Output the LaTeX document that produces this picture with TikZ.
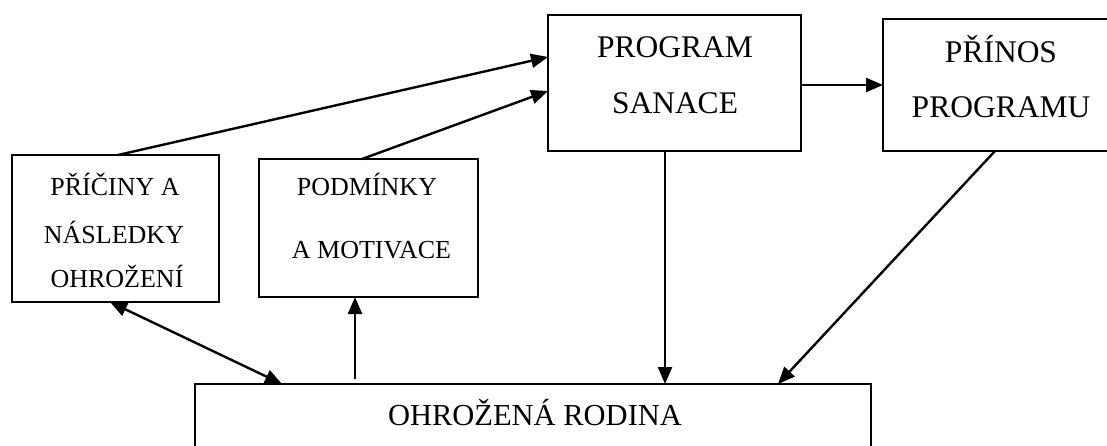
\documentclass[tikz,border=0pt]{standalone}
\usepackage{fontspec}
\setmainfont{Liberation Serif}
\usetikzlibrary{arrows.meta}
\begin{document}
\begin{tikzpicture}[x=1pt,y=-1pt,
  box/.style={draw, line width=1.9pt, inner sep=0pt, outer sep=0pt},
  tipa/.tip={Triangle[length=17pt,width=14pt]},
  arr/.style={line width=2.4pt, -tipa},
  darr/.style={line width=2.4pt, tipa-tipa},
  big/.style={anchor=base, font=\fontsize{31.5}{36}\selectfont},
  small/.style={anchor=base, font=\fontsize{26}{30}\selectfont},
  fam/.style={anchor=base, font=\fontsize{30.5}{35}\selectfont}]
\clip (0,0) rectangle (1107,445);
\fill[white] (0,0) rectangle (1107,445);
% boxes
\node[box, minimum width=253pt, minimum height=136pt] (ps) at (674.5,83) {};
\node[box, minimum width=236pt, minimum height=132pt] (pp) at (1001,85) {};
\node[box, minimum width=207pt, minimum height=147pt] (pc) at (115.5,228.5) {};
\node[box, minimum width=219pt, minimum height=138pt] (pm) at (368.5,228) {};
\node[box, minimum width=676pt, minimum height=100pt] (or) at (533,434) {};
% texts
\node[big] (t1) at (675,57) {PROGRAM};
\node[big] (t2) at (675,113) {SANACE};
\node[big] (t3) at (1001,62) {PŘÍNOS};
\node[big] (t4) at (1001,117) {PROGRAMU};
\node[small] (t5) at (115,195) {PŘÍČINY A};
\node[small] (t6) at (114,243) {NÁSLEDKY};
\node[small] (t7) at (117,287) {OHROŽENÍ};
\node[small] (t8) at (367,195) {PODMÍNKY};
\node[small] (t9) at (371.5,258) {A MOTIVACE};
\node[fam] (t10) at (535,425) {OHROŽENÁ RODINA};
% connectors
\draw[arr] ([xshift=2.5pt]pc.north) -- ([yshift=26pt]ps.west);
\draw[arr] ([xshift=-6.5pt]pm.north) -- ([yshift=-8pt]ps.west);
\draw[arr] (ps.east |- pp.west) -- (pp.west);
\draw[arr] ([xshift=-9.5pt]ps.south) coordinate (a) -- (a |- or.north);
\draw[arr] ([xshift=-6pt]pp.south) -- ([xshift=245pt]or.north);
\draw[arr] ([xshift=-13.5pt,yshift=5pt]or.north -| pm.south) coordinate (b) -- ([xshift=-13.5pt]pm.south);
\draw[darr] ([xshift=-5.5pt]pc.south) -- ([xshift=-251pt]or.north);
\end{tikzpicture}
\end{document}
